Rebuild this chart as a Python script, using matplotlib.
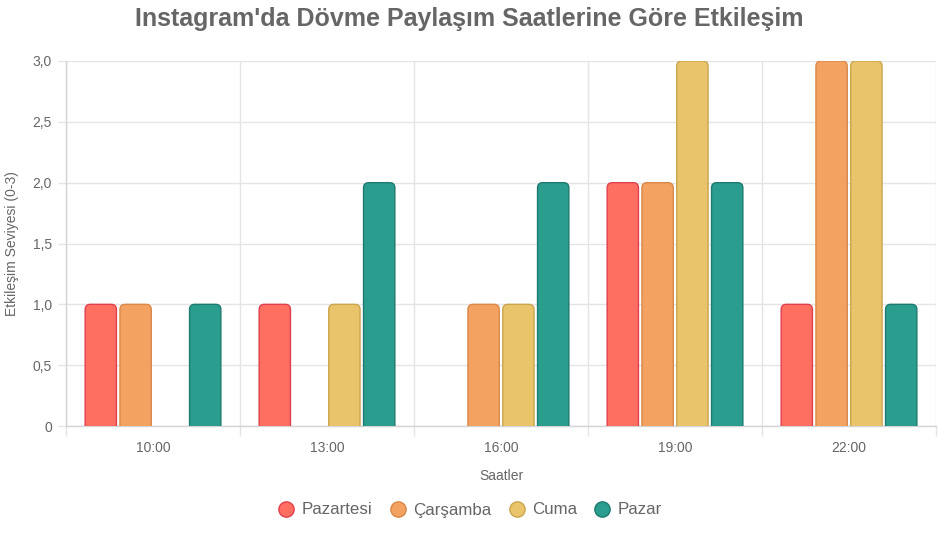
import matplotlib
matplotlib.use('Agg')
import matplotlib.pyplot as plt
from matplotlib.patches import FancyBboxPatch
from matplotlib.ticker import FuncFormatter, FixedLocator
from matplotlib.lines import Line2D

plt.rcParams['font.family'] = ['Liberation Sans', 'DejaVu Sans']

# --------------------------------------------------
# DATA
# --------------------------------------------------
hours = ['10:00', '13:00', '16:00', '19:00', '22:00']
days = ['Pazartesi', 'Çarşamba', 'Cuma', 'Pazar']
pazartesi = [1, 1, 0, 2, 1]
carsamba = [1, 0, 1, 2, 3]
cuma = [0, 1, 1, 3, 3]
pazar = [1, 2, 2, 2, 1]
series = [pazartesi, carsamba, cuma, pazar]

fills = ['#FF6F61', '#F4A261', '#E9C46A', '#2A9D8F']
edges = ['#E0404E', '#D9884A', '#C9A64E', '#1E7A6E']

text_color = '#666666'
grid_color = '#E5E5E5'

fig = plt.figure(figsize=(9.38, 5.33), dpi=100)
ax = fig.add_axes([66/938, 107/533, 870/938, 365/533])

slot = 0.8 / len(days)
bar_w = slot * 0.9
x = list(range(len(hours)))

# y units per pixel / x units per pixel -> keeps the corners round
aspect = (3 / 365) / (5 / 870)
radius = 0.03

for i, (vals, fc, ec) in enumerate(zip(series, fills, edges)):
    offs = (i - 1.5) * slot
    bars = ax.bar([xx + offs for xx in x], vals, width=bar_w)
    for b in bars:
        bx, by = b.get_x(), b.get_y()
        bw, bh = b.get_width(), b.get_height()
        b.remove()
        if bh <= 0:
            continue
        r_y = radius * aspect
        # extend below zero so only the top corners show rounded
        p = FancyBboxPatch((bx, by - r_y), bw, bh + r_y,
                           boxstyle=f"round,pad=0,rounding_size={radius}",
                           mutation_aspect=aspect,
                           facecolor=fc, edgecolor=ec, linewidth=1,
                           zorder=3)
        ax.add_patch(p)

ax.set_xlim(-0.5, 4.5)
ax.set_ylim(0, 3)

# x axis: labels at centres, tick marks / grid at the category borders
ax.set_xticks(x)
ax.set_xticklabels(hours)
ax.xaxis.set_minor_locator(FixedLocator([k - 0.5 for k in range(len(hours) + 1)]))
ax.tick_params(axis='x', which='major', length=0, pad=11,
               labelsize=10, labelcolor=text_color)
ax.tick_params(axis='x', which='minor', length=7.5, color=grid_color, width=1)

ax.set_yticks([0, 0.5, 1, 1.5, 2, 2.5, 3])
ax.yaxis.set_major_formatter(FuncFormatter(
    lambda v, p: '0' if v == 0 else f'{v:.1f}'.replace('.', ',')))
ax.tick_params(axis='y', length=6, pad=4, color=grid_color, width=1,
               labelsize=10, labelcolor=text_color)

ax.grid(axis='x', which='minor', color=grid_color, linewidth=1, zorder=0)
ax.grid(axis='y', which='major', color=grid_color, linewidth=1, zorder=0)
ax.set_axisbelow(True)

for s in ['top', 'right']:
    ax.spines[s].set_visible(False)
for s in ['left', 'bottom']:
    ax.spines[s].set_color('#D4D4D4')
    ax.spines[s].set_linewidth(1)

ax.set_xlabel('Saatler', fontsize=10, color=text_color, labelpad=10)
ax.set_ylabel('Etkileşim Seviyesi (0-3)', fontsize=10, color=text_color, labelpad=10)

fig.text(0.5, 1 - 19/533, "Instagram'da Dövme Paylaşım Saatlerine Göre Etkileşim",
         ha='center', va='center', fontsize=18, fontweight='bold', color=text_color)

handles = [Line2D([], [], linestyle='none', marker='o', markersize=11,
                  markerfacecolor=fc, markeredgecolor=ec, markeredgewidth=1)
           for fc, ec in zip(fills, edges)]
fig.legend(handles, days, loc='center', bbox_to_anchor=(0.5, 1 - 510/533),
           ncol=4, frameon=False, fontsize=12.2, labelcolor=text_color,
           handletextpad=0.3, columnspacing=0.9, handlelength=1.2)

fig.savefig('out.png', dpi=100)
